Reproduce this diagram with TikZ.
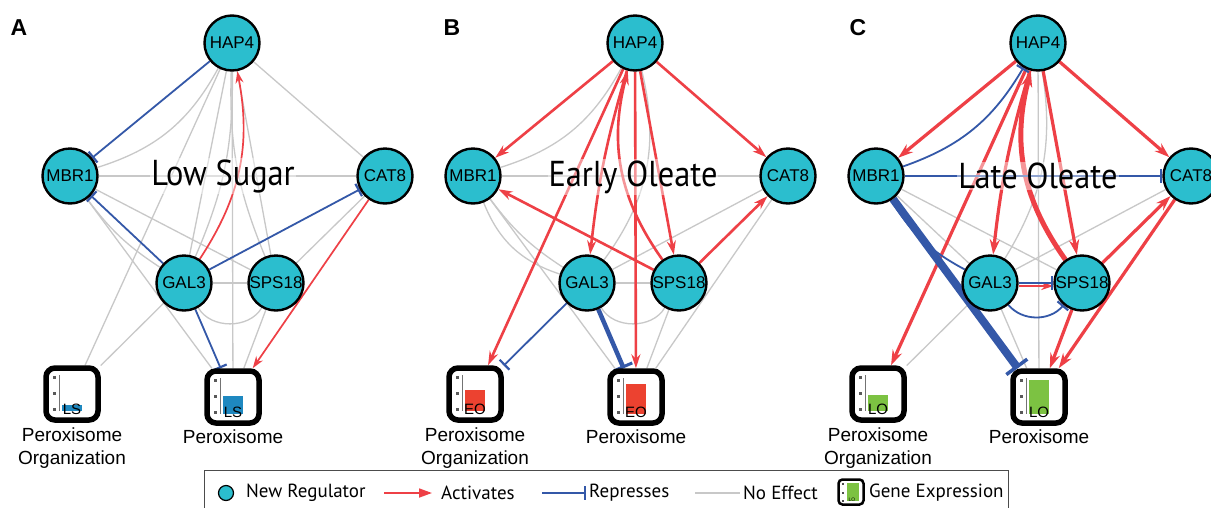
\documentclass[tikz,border=0pt]{standalone}
\usepackage{fontspec}
\setmainfont{Liberation Sans}
\newfontfamily\myr{PT Sans}
\usetikzlibrary{arrows.meta,calc}
\definecolor{cReg}{RGB}{43,190,206}
\definecolor{cAct}{RGB}{238,64,70}
\definecolor{cRep}{RGB}{52,88,168}
\definecolor{cNe}{RGB}{200,200,200}
\definecolor{cLS}{RGB}{30,136,192}
\definecolor{cEO}{RGB}{236,66,48}
\definecolor{cLO}{RGB}{124,194,66}
\pgfdeclarelayer{edgelayer}
\pgfdeclarelayer{titlelayer}
\pgfsetlayers{edgelayer,titlelayer,main}
\tikzset{
 reg/.style={circle, draw=black, line width=2.4pt, fill=cReg, minimum size=55pt, inner sep=0pt, font=\fontsize{17}{19}\selectfont},
 gbox/.style={draw=black, fill=white, line width=5.5pt, rounded corners=9pt, minimum width=52pt, minimum height=52pt, inner sep=0pt},
 lbl/.style={align=center, font=\fontsize{19}{23}\selectfont, inner sep=0pt},
 ttl/.style={font=\myr\fontsize{36}{40}\selectfont, fill=white, fill opacity=0.45, text opacity=1, inner sep=1pt},
 plet/.style={font=\bfseries\fontsize{23}{23}\selectfont, inner sep=0pt},
 lgtext/.style={font=\myr\fontsize{19}{21}\selectfont, anchor=west, inner sep=0pt},
 ne/.style={draw=cNe, line width=1.3pt},
 act/.style={draw=cAct, line width=1.7pt, -{Stealth[length=12pt,width=8pt]}},
 lgact/.style={draw=cAct, line width=1.7pt, -{Triangle[length=13pt,width=9pt]}},
 actB/.style={draw=cAct, line width=2.6pt, -{Stealth[length=14pt,width=9pt]}},
 actC/.style={draw=cAct, line width=3.2pt, -{Stealth[length=15pt,width=10pt]}},
 actCC/.style={draw=cAct, line width=5pt, -{Stealth[length=16pt,width=11pt]}},
 rep/.style={draw=cRep, line width=1.8pt, -{Bar[width=14pt,line width=2.2pt]}},
 repB/.style={draw=cRep, line width=4.5pt, -{Bar[width=20pt,line width=3pt]}},
 repCC/.style={draw=cRep, line width=8pt, -{Bar[width=26pt,line width=3.5pt]}},
 bluecurve/.style={draw=cRep, line width=1.8pt},
}
\newcommand\mkpanel[2]{%
 \node[reg] (#1hap) at (#2,43) {HAP4};
 \node[reg] (#1mbr) at ({#2-162},176) {MBR1};
 \node[reg] (#1cat) at ({#2+153},176) {CAT8};
 \node[reg] (#1gal) at ({#2-48},283) {GAL3};
 \node[reg] (#1sps) at ({#2+44},283) {SPS18};
 \node[gbox] (#1po) at ({#2-160},394) {};
 \node[gbox] (#1p) at ({#2+1},397) {};
 \node[lbl] (#1pol) at ({#2-160},448) {Peroxisome\\Organization};
 \node[lbl] (#1pl) at ({#2+1},437) {Peroxisome};
}
\newcommand\gexp[4]{%
 \draw[black!55, line width=0.6pt] ([shift={(-13,-19)}]#1.center) -- ([shift={(-13,17)}]#1.center);
 \foreach \t in {-18,-2,14} \fill[black!65] ([shift={(-19,\t)}]#1.center) rectangle ++(2.5,2.5);
 \fill[#2] ([shift={(-10,17)}]#1.center) rectangle ([shift={(10,{17-#3})}]#1.center);
 \node[font=\fontsize{15}{15}\selectfont, inner sep=0pt] (#1lab) at ([shift={(0,15)}]#1.center) {#4};
}
\newcommand\ttltext[1]{\scalebox{0.9}[1]{#1}}
\begin{document}
\begin{tikzpicture}[x=1pt,y=-1pt]
\useasboundingbox (0,0) rectangle (1211,507);
\begin{pgfonlayer}{edgelayer}
\fill[white] (0,0) rectangle (1211,507);
\end{pgfonlayer}

\mkpanel{a}{232}
\mkpanel{b}{635}
\mkpanel{c}{1038}

\node[plet] (letA) at (19,28) {A};
\node[plet] (letB) at (452,28) {B};
\node[plet] (letC) at (858,28) {C};

\gexp{apo}{cLS}{6}{LS}
\gexp{ap}{cLS}{18}{LS}
\gexp{bpo}{cEO}{21}{EO}
\gexp{bp}{cEO}{30}{EO}
\gexp{cpo}{cLO}{16}{LO}
\gexp{cp}{cLO}{34}{LO}

\begin{pgfonlayer}{titlelayer}
\node[ttl] (tA) at (223,176) {\ttltext{Low Sugar}};
\node[ttl] (tB) at (633,177) {\ttltext{Early Oleate}};
\node[ttl] (tC) at (1038,176) {\ttltext{Late Oleate}};
\end{pgfonlayer}

\begin{pgfonlayer}{edgelayer}
% ---- panel A
\draw[ne] (ahap) -- (acat);
\draw[ne] (ahap) to[bend left=22] (ambr);
\draw[ne] (ahap) -- (apo);
\draw[ne] (ahap) -- (agal);
\draw[ne] (ahap) to[bend left=12] (agal);
\draw[ne] (ahap) -- (asps);
\draw[ne] (ahap) to[bend right=12] (asps);
\draw[ne] (ahap) -- (ap);
\draw[ne] (ambr) -- (acat);
\draw[ne] (ambr) -- (asps);
\draw[ne] (ambr) to[bend right=10] (agal);
\draw[ne] (ambr) -- (ap);
\draw[ne] (acat) -- (asps);
\draw[ne] (agal) -- (asps);
\draw[ne] (agal) to[bend right=60] (asps);
\draw[ne] (agal) -- (apo);
\draw[ne] (asps) -- (ap);
\draw[rep] (ahap) -- (ambr);
\draw[rep] (agal) -- (ambr);
\draw[rep] (agal) -- (acat);
\draw[act] (agal) to[bend right=22] (ahap);
\draw[rep] (agal) -- (ap);
\draw[act] (acat) -- (ap);
% ---- panel B
\draw[ne] (bhap) to[bend left=22] (bmbr);
\draw[ne] (bmbr) -- (bcat);
\draw[ne] (bmbr) to[bend right=10] (bgal);
\draw[ne] (bmbr) to[bend right=25] (bgal);
\draw[ne] (bmbr) -- (bp);
\draw[ne] (bcat) -- (bgal);
\draw[ne] (bcat) -- (bp);
\draw[ne] (bgal) -- (bsps);
\draw[ne] (bgal) to[bend right=60] (bsps);
\draw[ne] (bgal) -- (bp);
\draw[ne] (bsps) -- (bp);
\draw[ne] (bgal) to[bend right=25] (bhap);
\draw[actB] (bhap) -- (bmbr);
\draw[actB] (bhap) -- (bcat);
\draw[actB] (bhap) to[bend right=5] (bgal);
\draw[actB] (bhap) -- (bsps);
\draw[actB] (bhap) -- (bp);
\draw[actB] (bhap) -- (bpo);
\draw[actB] (bsps) to[bend left=25] (bhap);
\draw[actB] (bsps) -- (bmbr);
\draw[actB] (bsps) -- (bcat);
\draw[rep] (bgal) -- (bpo);
\draw[repB] (bgal) -- (bp);
% ---- panel C
\draw[ne] (chap) -- (cp);
\draw[ne] (cmbr) -- (csps);
\draw[ne] (cmbr) -- (cgal);
\draw[ne] (ccat) -- (cgal);
\draw[ne] (cgal) -- (cpo);
\draw[ne] (cgal) -- (cp);
\draw[ne] (cgal) to[bend right=20] (chap);
\draw[actC] (chap) -- (cmbr);
\draw[actC] (chap) -- (ccat);
\draw[actC] (chap) to[bend right=5] (cgal);
\draw[actC] (chap) -- (csps);
\draw[actC] (chap) -- (cpo);
\draw[actCC] (csps) to[bend left=25] (chap);
\draw[rep] (cmbr) to[bend right=20] (chap);
\draw[rep] (cmbr) -- (ccat);
\draw[repCC] (cmbr) -- (cp);
\draw[bluecurve] (cgal) to[bend left=15] (cmbr);
\draw[act] ([shift={(0,3)}]cgal.east) -- ([shift={(0,3)}]csps.west);
\draw[rep] (cgal) -- (csps);
\draw[rep] (cgal) to[bend right=50] (csps);
\draw[actC] (csps) -- (ccat);
\draw[actC] (ccat) -- (cp);
\draw[actC] (csps) -- (cp);
\end{pgfonlayer}

% ---- legend
\draw[black!70, line width=1pt] (204,470) rectangle (1008,512);
\node[circle, draw=black, line width=1.2pt, fill=cReg, minimum size=15pt, inner sep=0pt] (lgreg) at (226,493) {};
\node[lgtext] (lgregt) at (246,493) {New Regulator};
\coordinate (la1) at (384,493);
\coordinate (la2) at (432,493);
\draw[lgact] (la1) -- (la2);
\node[lgtext] (lgact) at (441,493) {Activates};
\coordinate (lr1) at (542,493);
\coordinate (lr2) at (586,493);
\draw[rep] (lr1) -- (lr2);
\node[lgtext] (lgrep) at (589,493) {Represses};
\coordinate (ln1) at (695,493);
\coordinate (ln2) at (740,493);
\draw[ne] (ln1) -- (ln2);
\node[lgtext] (lgne) at (743,493) {No Effect};
\node[draw=black, fill=white, line width=2.5pt, rounded corners=4pt, minimum width=25pt, minimum height=25pt, inner sep=0pt] (lgbox) at (851,492) {};
\fill[cLO] ([shift={(-4,-9)}]lgbox.center) rectangle ([shift={(8,9)}]lgbox.center);
\foreach \t in {-9,0,8} \fill[black!70] ([shift={(-9,\t)}]lgbox.center) rectangle ++(1.5,1.5);
\node[font=\fontsize{5}{5}\selectfont, inner sep=0pt] (lglo) at ([shift={(1,8)}]lgbox.center) {LO};
\node[lgtext] (lggene) at (869,493) {Gene Expression};
\end{tikzpicture}
\end{document}
